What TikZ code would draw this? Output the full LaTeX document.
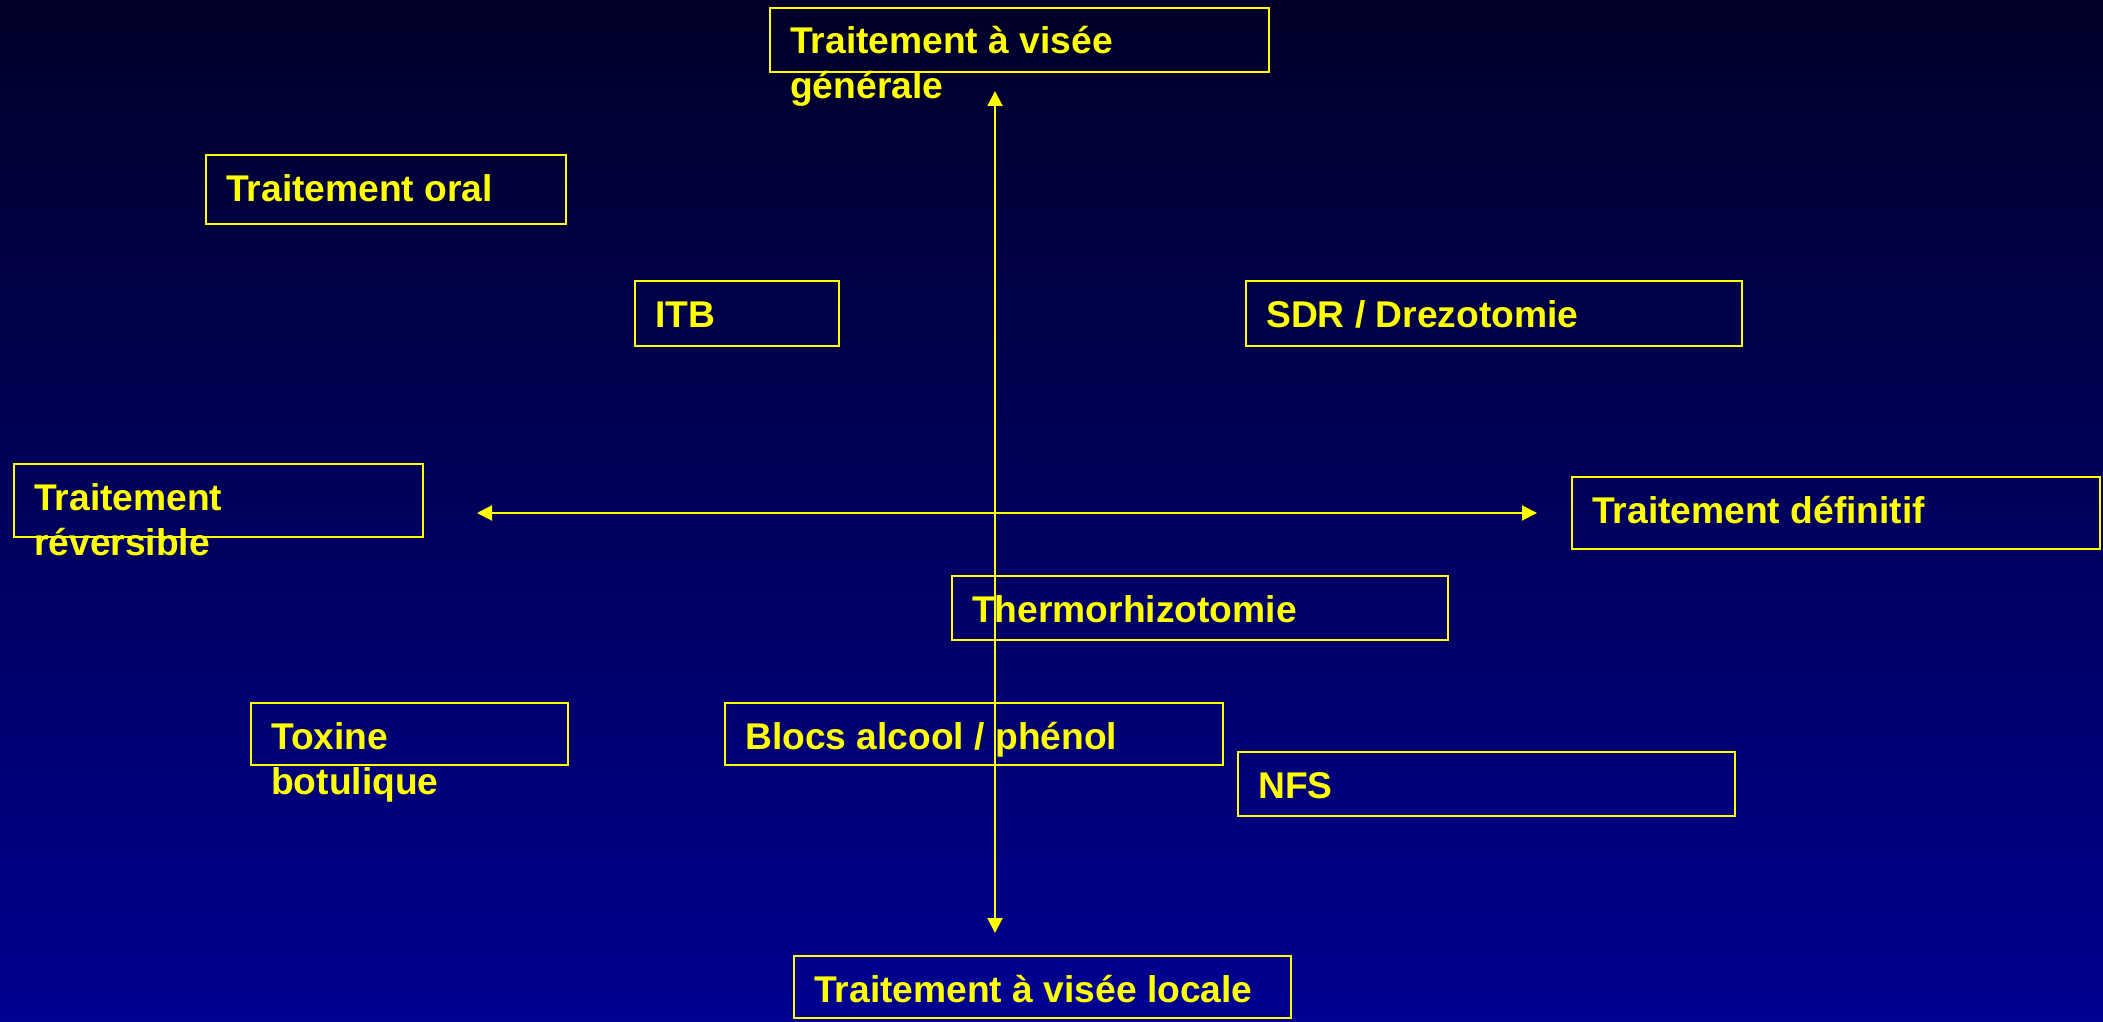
\documentclass[tikz,border=0pt]{standalone}
\usepackage{fontspec}
\setmainfont{Liberation Sans}
\usetikzlibrary{arrows.meta}
\definecolor{bgtop}{RGB}{0,0,40}
\definecolor{bgbot}{RGB}{0,0,145}
\definecolor{ylw}{RGB}{255,255,0}
\newcommand{\twol}[2]{\vtop{\baselineskip=45pt\hbox{#1}\hbox{#2}}}
\tikzset{
  frame/.style={draw=ylw, line width=2pt, inner sep=0pt, anchor=north west},
  lbl/.style={text=ylw, font=\bfseries\fontsize{37.2}{45}\selectfont, inner sep=0pt, anchor=base west},
  axis/.style={draw=ylw, line width=2pt, {Triangle[length=15pt,width=15pt]}-{Triangle[length=15pt,width=15pt]}}
}
% box: name, x1, y1, x2, y2, text
\newcommand{\tbox}[6]{%
  \node[frame, minimum width={#4-#2}, minimum height={#5-#3}] (#1) at (#2,#3) {};
  \node[lbl] (#1t) at ([xshift=21pt,yshift=-47pt]#1.north west) {#6};
}
\begin{document}
\begin{tikzpicture}[x=1pt,y=-1pt]
\shade[top color=bgtop, bottom color=bgbot] (0,0) rectangle (2103,1022);
\useasboundingbox (0,0) rectangle (2103,1022);
\coordinate (vt) at (995,91);
\coordinate (vb) at (995,933);
\coordinate (hl) at (477,513);
\coordinate (hr) at (1537,513);
\draw[axis] (vt) -- (vb);
\draw[axis] (hl) -- (hr);
\tbox{gen}{769}{7}{1268}{71}{\twol{Traitement à visée}{générale}}
\tbox{oral}{205}{154}{565}{223}{Traitement oral}
\tbox{itb}{634}{280}{838}{345}{ITB}
\tbox{sdr}{1245}{280}{1741}{345}{SDR / Drezotomie}
\tbox{rev}{13}{463}{422}{536}{\twol{Traitement}{réversible}}
\tbox{def}{1571}{476}{2099}{548}{Traitement définitif}
\tbox{thermo}{951}{575}{1447}{639}{Thermorhizotomie}
\tbox{tox}{250}{702}{567}{764}{\twol{Toxine}{botulique}}
\tbox{blocs}{724}{702}{1222}{764}{Blocs alcool / phénol}
\tbox{nfs}{1237}{751}{1734}{815}{NFS}
\tbox{loc}{793}{955}{1290}{1017}{Traitement à visée locale}
\end{tikzpicture}
\end{document}
